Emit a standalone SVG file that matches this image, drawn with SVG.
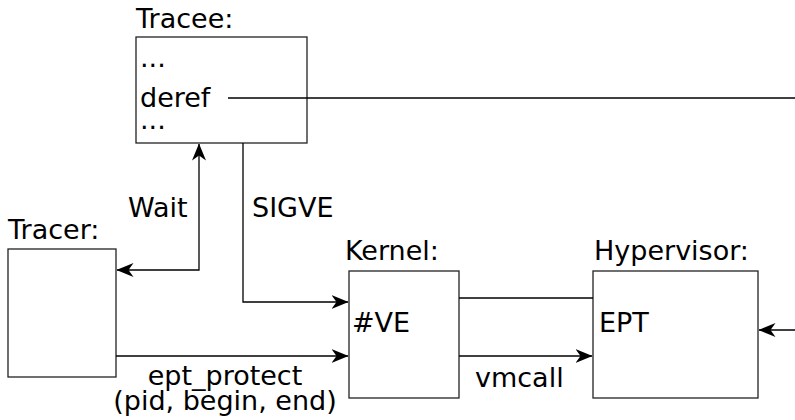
<svg xmlns="http://www.w3.org/2000/svg" width="795" height="420" viewBox="0 0 795 420">
<style>
text{font-family:"DejaVu Sans","Liberation Sans",sans-serif;font-size:27px;fill:#000}
.box{fill:#fff;stroke:#222;stroke-width:1.3}
.c{fill:none;stroke:#000;stroke-width:1.3}
</style>
<defs>
<marker id="ah" viewBox="0 0 17 14" refX="16.5" refY="7" markerWidth="17" markerHeight="14" markerUnits="userSpaceOnUse" orient="auto-start-reverse">
<path d="M0,0 L17,7 L0,14 L5,7 Z" fill="#000"/>
</marker>
</defs>
<rect width="795" height="420" fill="#fff"/>
<g id="tracee">
<text x="136" y="28">Tracee:</text>
<rect class="box" x="136" y="37" width="171" height="106"/>
<text x="140" y="67">...</text>
<text x="140" y="107">deref</text>
<text x="140" y="129">...</text>
</g>
<g id="tracer">
<text x="8" y="239">Tracer:</text>
<rect class="box" x="8" y="249" width="108" height="128"/>
</g>
<g id="kernel">
<text x="345" y="260">Kernel:</text>
<rect class="box" x="349" y="271" width="110" height="127"/>
<text x="352" y="332">#VE</text>
</g>
<g id="hypervisor">
<text x="594" y="260">Hypervisor:</text>
<rect class="box" x="593" y="271" width="165" height="127"/>
<text x="599" y="332">EPT</text>
</g>
<g id="connectors">
<path class="c" d="M228,98 H795"/>
<path class="c" d="M199,144 V270 H117" marker-start="url(#ah)" marker-end="url(#ah)"/>
<text x="128" y="217">Wait</text>
<path class="c" d="M243,143 V302 H348" marker-end="url(#ah)"/>
<text x="252" y="217">SIGVE</text>
<path class="c" d="M116,356 H348" marker-end="url(#ah)"/>
<text x="225" y="385" text-anchor="middle">ept_protect</text>
<text x="225" y="410" text-anchor="middle">(pid, begin, end)</text>
<path class="c" d="M459,298 H593"/>
<path class="c" d="M459,356 H592" marker-end="url(#ah)"/>
<text x="475" y="387">vmcall</text>
<path class="c" d="M795,330 H759" marker-end="url(#ah)"/>
</g>
</svg>
